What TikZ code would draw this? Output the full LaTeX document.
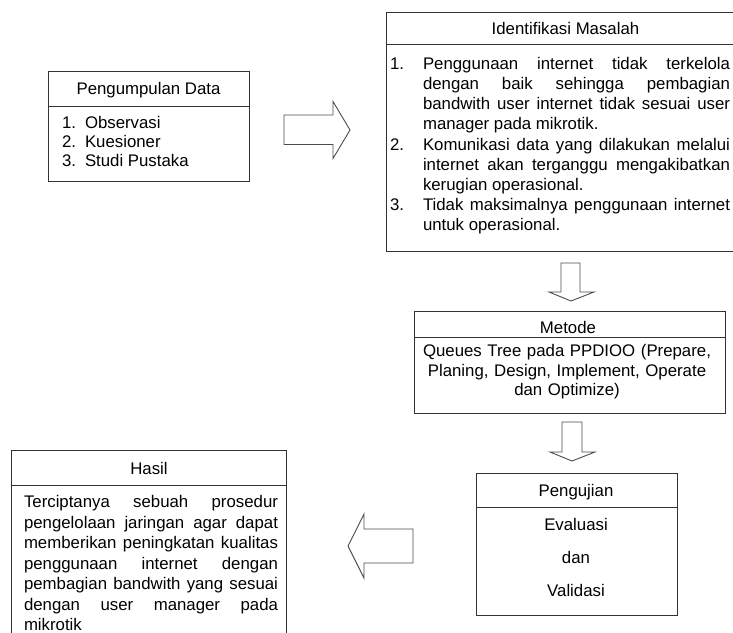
\documentclass[tikz,border=0pt]{standalone}
\usepackage{fontspec}
\setmainfont{Liberation Sans}
\hyphenpenalty=10000
\exhyphenpenalty=10000
\tolerance=10000
\begin{document}
\begin{tikzpicture}[x=1pt,y=-1pt,
  box/.style={draw=black!80, line width=0.9pt, inner sep=0pt, outer sep=0pt, anchor=north west},
  divider/.style={draw=black!80, line width=0.9pt},
  blockarrow/.style={draw=black!70, line width=0.9pt, fill=white, line join=miter},
  txt/.style={font=\fontsize{16.8}{20}\selectfont, inner sep=0pt, outer sep=0pt},
  head/.style={txt, anchor=base},
  num/.style={txt, anchor=base west},
  par/.style={txt, anchor=base west, align=justify}
]
\useasboundingbox (0,0) rectangle (733,632);
\clip (0,0) rectangle (733,632);

% boxes
\node[box, minimum width=201pt, minimum height=110pt] (pd) at (48,71) {};
\draw[divider] ([yshift=-35pt]pd.north west) -- ([yshift=-35pt]pd.north east);
\node[box, minimum width=360pt, minimum height=239pt] (im) at (386,12) {};
\draw[divider] ([yshift=-32pt]im.north west) -- ([yshift=-32pt]im.north east);
\node[box, minimum width=311pt, minimum height=102pt] (me) at (414,311) {};
\draw[divider] ([yshift=-26pt]me.north west) -- ([yshift=-26pt]me.north east);
\node[box, minimum width=201pt, minimum height=142pt] (pu) at (476,473) {};
\draw[divider] ([yshift=-34pt]pu.north west) -- ([yshift=-34pt]pu.north east);
\node[box, minimum width=275pt, minimum height=200pt] (ha) at (11,450) {};
\draw[divider] ([yshift=-35pt]ha.north west) -- ([yshift=-35pt]ha.north east);

% Pengumpulan Data
\node[head] (pdh) at (148.5,94) {Pengumpulan Data};
\node[num] (pd1n) at (62,128) {1.};
\node[num] (pd1) at (85,128) {Observasi};
\node[num] (pd2n) at (62,147) {2.};
\node[num] (pd2) at (85,147) {Kuesioner};
\node[num] (pd3n) at (62,166) {3.};
\node[num] (pd3) at (85,166) {Studi Pustaka};

% Identifikasi Masalah
\node[head] (imh) at (565.5,34) {Identifikasi Masalah};
\node[num] (im1n) at (390,69.5) {1.};
\node[par, text width=307pt] (im1) at (423,69.5) {Penggunaan internet tidak terkelola\linebreak dengan baik sehingga pembagian\linebreak bandwith user internet tidak sesuai user\linebreak manager pada mikrotik.};
\node[num] (im2n) at (390,150) {2.};
\node[par, text width=307pt] (im2) at (423,150) {Komunikasi data yang dilakukan melalui\linebreak internet akan terganggu mengakibatkan\linebreak kerugian operasional.};
\node[num] (im3n) at (390,210.5) {3.};
\node[par, text width=307pt] (im3) at (423,210.5) {Tidak maksimalnya penggunaan internet\linebreak untuk operasional.};

% Metode
\node[head] (meh) at (568,333.3) {Metode};
\node[txt, anchor=base, text width=305pt, align=center, font=\fontsize{16.8}{19.5}\selectfont] (meb) at (567,356.7) {Queues Tree pada PPDIOO (Prepare,\\Planing, Design, Implement, Operate\\dan Optimize)};

% Pengujian
\node[head] (puh) at (576,496) {Pengujian};
\node[head] (pu1) at (576,530) {Evaluasi};
\node[head] (pu2) at (576,563.3) {dan};
\node[head] (pu3) at (576,596) {Validasi};

% Hasil
\node[head] (hah) at (149,474.3) {Hasil};
\node[par, text width=254pt, font=\fontsize{16.8}{20.5}\selectfont] (hab) at (24,507.7) {Terciptanya sebuah prosedur\linebreak pengelolaan jaringan agar dapat\linebreak memberikan peningkatan kualitas\linebreak penggunaan internet dengan\linebreak pembagian bandwith yang sesuai\linebreak dengan user manager pada\linebreak mikrotik};

% block arrows
\draw[blockarrow] (284,115) -- (333,115) -- (333,101.5) -- (350,130) -- (333,158.5) -- (333,144.5) -- (284,144.5) -- cycle;
\draw[blockarrow] (561,263) -- (580,263) -- (580,292) -- (594,292) -- (571,301) -- (549,292) -- (561,292) -- cycle;
\draw[blockarrow] (562,422) -- (582,422) -- (582,452) -- (595,452) -- (572,461) -- (550,452) -- (562,452) -- cycle;
\draw[blockarrow] (413,529) -- (364,529) -- (364,514) -- (348,546) -- (364,578) -- (364,563) -- (413,563) -- cycle;
\end{tikzpicture}
\end{document}
